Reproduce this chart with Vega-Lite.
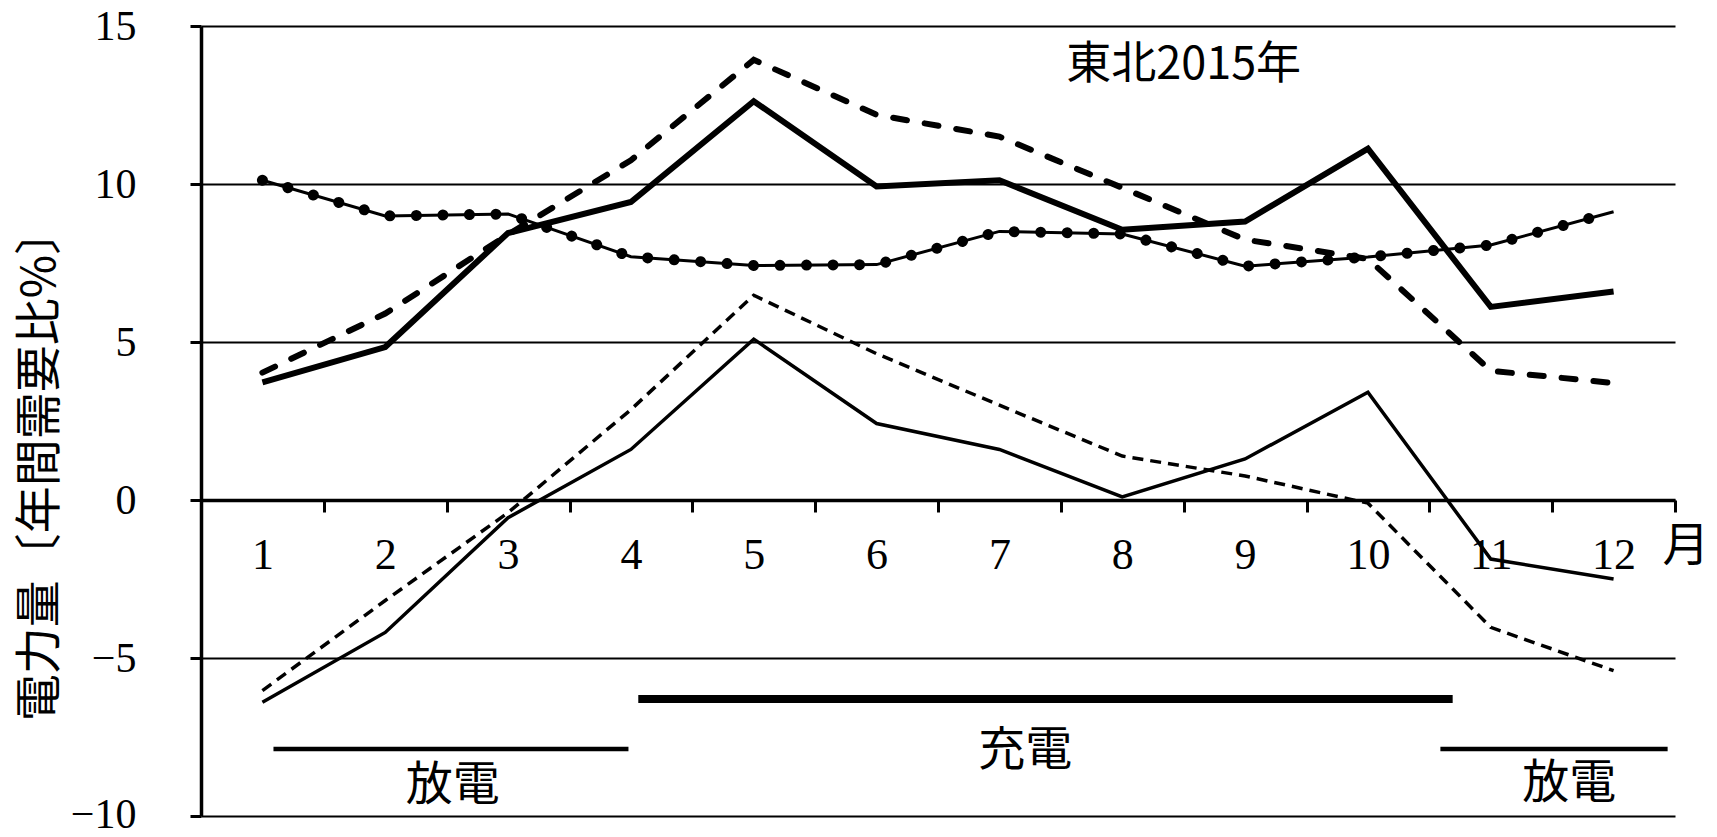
{
  "$schema": "https://vega.github.io/schema/vega-lite/v6.json",
  "width": 1474,
  "height": 790,
  "autosize": {"type": "none"},
  "padding": {"left": 201, "top": 26, "right": 42, "bottom": 21},
  "background": "white",
  "config": {"view": {"stroke": null}, "font": "Noto Sans CJK JP"},
  "datasets": {
    "series": [
      {"series": "A", "x": 1, "y": 3.72}, {"series": "A", "x": 2, "y": 4.84}, {"series": "A", "x": 3, "y": 8.45}, {"series": "A", "x": 4, "y": 9.43},
      {"series": "A", "x": 5, "y": 12.62}, {"series": "A", "x": 6, "y": 9.92}, {"series": "A", "x": 7, "y": 10.12}, {"series": "A", "x": 8, "y": 8.55},
      {"series": "A", "x": 9, "y": 8.81}, {"series": "A", "x": 10, "y": 11.12}, {"series": "A", "x": 11, "y": 6.11}, {"series": "A", "x": 12, "y": 6.6},
      {"series": "B", "x": 1, "y": 4.03}, {"series": "B", "x": 2, "y": 5.9}, {"series": "B", "x": 3, "y": 8.4}, {"series": "B", "x": 4, "y": 10.75},
      {"series": "B", "x": 5, "y": 13.93}, {"series": "B", "x": 6, "y": 12.19}, {"series": "B", "x": 7, "y": 11.5}, {"series": "B", "x": 8, "y": 9.88},
      {"series": "B", "x": 9, "y": 8.24}, {"series": "B", "x": 10, "y": 7.63}, {"series": "B", "x": 11, "y": 4.09}, {"series": "B", "x": 12, "y": 3.7},
      {"series": "C", "x": 1, "y": 10.12}, {"series": "C", "x": 2, "y": 8.99}, {"series": "C", "x": 3, "y": 9.05}, {"series": "C", "x": 4, "y": 7.7},
      {"series": "C", "x": 5, "y": 7.42}, {"series": "C", "x": 6, "y": 7.45}, {"series": "C", "x": 7, "y": 8.5}, {"series": "C", "x": 8, "y": 8.42},
      {"series": "C", "x": 9, "y": 7.4}, {"series": "C", "x": 10, "y": 7.69}, {"series": "C", "x": 11, "y": 8.07}, {"series": "C", "x": 12, "y": 9.12},
      {"series": "D", "x": 1, "y": -6.4}, {"series": "D", "x": 2, "y": -4.19}, {"series": "D", "x": 3, "y": -0.56}, {"series": "D", "x": 4, "y": 1.6},
      {"series": "D", "x": 5, "y": 5.09}, {"series": "D", "x": 6, "y": 2.42}, {"series": "D", "x": 7, "y": 1.6}, {"series": "D", "x": 8, "y": 0.1},
      {"series": "D", "x": 9, "y": 1.3}, {"series": "D", "x": 10, "y": 3.41}, {"series": "D", "x": 11, "y": -1.87}, {"series": "D", "x": 12, "y": -2.5},
      {"series": "E", "x": 1, "y": -6.03}, {"series": "E", "x": 2, "y": -3.18}, {"series": "E", "x": 3, "y": -0.4}, {"series": "E", "x": 4, "y": 2.86},
      {"series": "E", "x": 5, "y": 6.48}, {"series": "E", "x": 6, "y": 4.63}, {"series": "E", "x": 7, "y": 3.0}, {"series": "E", "x": 8, "y": 1.39},
      {"series": "E", "x": 9, "y": 0.76}, {"series": "E", "x": 10, "y": -0.1}, {"series": "E", "x": 11, "y": -4.03}, {"series": "E", "x": 12, "y": -5.4}
    ],
    "bars": [
      {"phase": "放電", "x": 1.09, "x2": 3.98, "y": -7.88},
      {"phase": "充電", "x": 4.06, "x2": 10.69, "y": -6.3},
      {"phase": "放電", "x": 10.59, "x2": 12.44, "y": -7.88}
    ],
    "labels": [
      {"text": "放電", "x": 2.55, "y": -9.05},
      {"text": "充電", "x": 7.21, "y": -7.94},
      {"text": "放電", "x": 11.64, "y": -9.0},
      {"text": "月", "x": 12.59, "y": -1.49}
    ],
    "heading": [
      {"text": "東北2015年", "x": 8.5, "y": 13.77}
    ]
  },
  "encoding": {
    "x": {
      "field": "x", "type": "quantitative",
      "scale": {"domain": [0.5, 12.5], "nice": false, "zero": false},
      "axis": {
        "orient": "bottom", "offset": -316, "title": null,
        "values": [0.5, 1, 1.5, 2, 2.5, 3, 3.5, 4, 4.5, 5, 5.5, 6, 6.5, 7, 7.5, 8, 8.5, 9, 9.5, 10, 10.5, 11, 11.5, 12, 12.5],
        "labelExpr": "datum.value % 1 === 0 ? '' + datum.value : ''",
        "tickOpacity": {"condition": {"test": "datum.value % 1 === 0", "value": 0}, "value": 1},
        "tickSize": 12, "tickWidth": 3, "tickColor": "black",
        "domainColor": "black", "domainWidth": 3.5,
        "labelFont": "Liberation Serif", "labelFontSize": 44, "labelColor": "black", "labelPadding": 21,
        "grid": false, "labelFlush": false, "labelOverlap": false, "labelBound": false
      }
    },
    "y": {
      "field": "y", "type": "quantitative",
      "scale": {"domain": [-10, 15], "nice": false, "zero": false},
      "axis": {
        "values": [-10, -5, 0, 5, 10, 15],
        "grid": true, "gridColor": "black", "gridWidth": 2, "gridOpacity": 1,
        "domainColor": "black", "domainWidth": 3.5,
        "tickColor": "black", "tickSize": 11, "tickWidth": 3,
        "labelFont": "Liberation Serif", "labelFontSize": 42, "labelColor": "black", "labelPadding": 54,
        "labelOffset": {"condition": {"test": "datum.value === -10", "value": -2}, "value": 0},
        "labelFlush": false, "labelOverlap": false, "labelBound": false,
        "title": "電力量〔年間需要比%〕",
        "titleFont": "Noto Sans CJK JP", "titleFontSize": 47, "titleFontWeight": "normal", "titleColor": "black",
        "titleAngle": -90, "titleX": -161, "titleY": 438, "titleAlign": "center", "titleBaseline": "middle"
      }
    }
  },
  "layer": [
    {
      "data": {"name": "series"},
      "transform": [{"filter": "datum.series === 'C'"}],
      "mark": {"type": "line", "color": "black", "strokeWidth": 3}
    },
    {
      "data": {"name": "series"},
      "transform": [{"filter": "datum.series === 'C'"}],
      "mark": {"type": "line", "color": "black", "strokeWidth": 11, "strokeCap": "round", "strokeDash": [0.01, 26.5]}
    },
    {
      "data": {"name": "series"},
      "transform": [{"filter": "datum.series === 'A'"}],
      "mark": {"type": "line", "color": "black", "strokeWidth": 6, "strokeJoin": "miter"}
    },
    {
      "data": {"name": "series"},
      "transform": [{"filter": "datum.series === 'B'"}],
      "mark": {"type": "line", "color": "black", "strokeWidth": 6, "strokeCap": "round", "strokeDash": [14, 18]}
    },
    {
      "data": {"name": "series"},
      "transform": [{"filter": "datum.series === 'D'"}],
      "mark": {"type": "line", "color": "black", "strokeWidth": 3.5}
    },
    {
      "data": {"name": "series"},
      "transform": [{"filter": "datum.series === 'E'"}],
      "mark": {"type": "line", "color": "black", "strokeWidth": 3.5, "strokeDash": [11, 7]}
    },
    {
      "data": {"name": "bars"},
      "transform": [{"filter": "datum.phase === '放電'"}],
      "mark": {"type": "rule", "color": "black", "strokeWidth": 4.5},
      "encoding": {"x2": {"field": "x2"}}
    },
    {
      "data": {"name": "bars"},
      "transform": [{"filter": "datum.phase === '充電'"}],
      "mark": {"type": "rule", "color": "black", "strokeWidth": 8},
      "encoding": {"x2": {"field": "x2"}}
    },
    {
      "data": {"name": "labels"},
      "mark": {"type": "text", "color": "black", "font": "Noto Sans CJK JP", "fontSize": 47, "align": "center", "baseline": "middle"},
      "encoding": {"text": {"field": "text"}}
    },
    {
      "data": {"name": "heading"},
      "mark": {"type": "text", "color": "black", "font": "Noto Sans CJK JP", "fontSize": 45, "align": "center", "baseline": "middle"},
      "encoding": {"text": {"field": "text"}}
    }
  ]
}
